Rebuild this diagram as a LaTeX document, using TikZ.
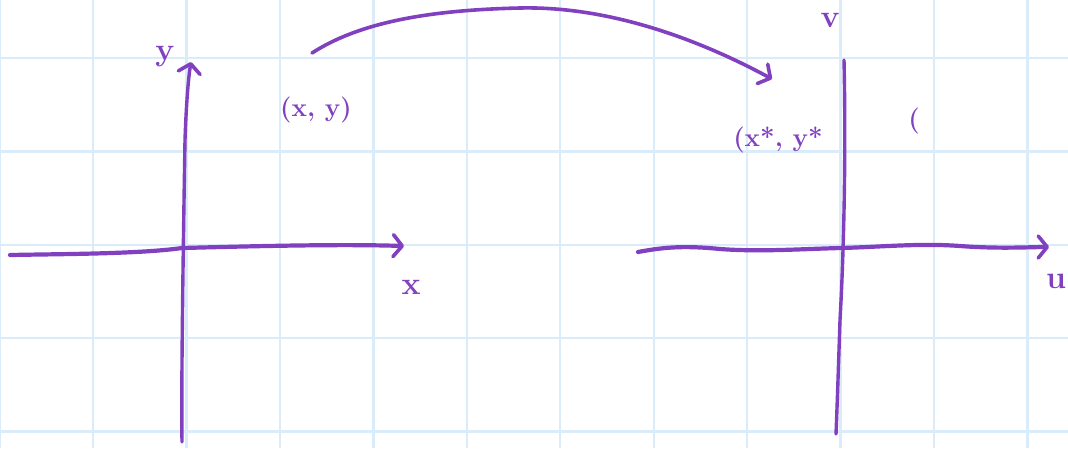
\documentclass[tikz,border=0pt]{standalone}
\usetikzlibrary{arrows.meta}
\definecolor{pen}{RGB}{128,64,192}
\definecolor{gridblue}{RGB}{218,236,249}
\tikzset{
  gridline/.style={draw=gridblue,line width=2.4pt},
  axisline/.style={draw=pen,line width=4.2pt,line cap=round,line join=round},
  vaxisline/.style={draw=pen,line width=3.4pt,line cap=round,line join=round},
  chev/.style={-{Straight Barb[length=9pt,width=22pt,line width=3.6pt,round]}},
  curvearrow/.style={draw=pen,line width=3.6pt,line cap=round},
  lab/.style={text=pen,inner sep=0pt,font=\fontsize{32}{34}\selectfont\bfseries},
  tup/.style={text=pen,inner sep=0pt,font=\fontsize{26}{28}\selectfont\bfseries},
}
\begin{document}
\begin{tikzpicture}[x=1pt,y=-1pt]
\useasboundingbox (0,0) rectangle (1068,448);
\fill[white] (0,0) rectangle (1068,448);
% grid
\foreach \k in {0,...,11}{
  \draw[gridline] ({-0.45+93.45*\k},0) -- ({-0.45+93.45*\k},448);
}
\foreach \k in {0,...,4}{
  \draw[gridline] (0,{58+93.4*\k}) -- (1068,{58+93.4*\k});
}
% left axes
\coordinate (lxs) at (10,255);
\coordinate (lxe) at (404,246);
\coordinate (lyb) at (182,442);
\coordinate (lyt) at (191,62);
\draw[axisline,chev] (lxs) .. controls (60,254) and (140,254) .. (182,248) .. controls (260,246) and (340,244) .. (lxe);
\draw[vaxisline,chev] (lyb) .. controls (181,380) and (184,200) .. (185,140) .. controls (186,110) and (188,80) .. (lyt);
% right axes
\coordinate (rxs) at (638,252);
\coordinate (rxe) at (1049,247);
\coordinate (rvt) at (844,60);
\coordinate (rvb) at (836,434);
\draw[axisline,chev] (rxs) .. controls (660,248) and (680,245) .. (720,249) .. controls (760,252) and (800,249) .. (841,248) .. controls (880,247) and (920,243) .. (960,246) .. controls (1000,249) and (1030,247) .. (rxe);
\draw[vaxisline] (rvt) .. controls (846,150) and (844,250) .. (840,320) .. controls (838,380) and (837,410) .. (rvb);
% labels
\node[lab] (ly) at (165,57) {y};
\node[tup] (pxy) at (316,110) {(x, y)};
\node[lab] (lx) at (411,287) {x};
\node[lab] (lv) at (830,20) {v};
\node[tup] (pst) at (778,140) {(x*, y*};
\node[tup] (par) at (914,121) {(};
\node[lab] (lu) at (1056,281) {u};
% mapping arrow
\coordinate (cs) at (312,53);
\coordinate (ctop) at (520,8);
\coordinate (ce) at (772,79);
\draw[curvearrow,chev] (cs) .. controls (360,22) and (430,10) .. (ctop) .. controls (610,6) and (700,40) .. (ce);
\end{tikzpicture}
\end{document}
